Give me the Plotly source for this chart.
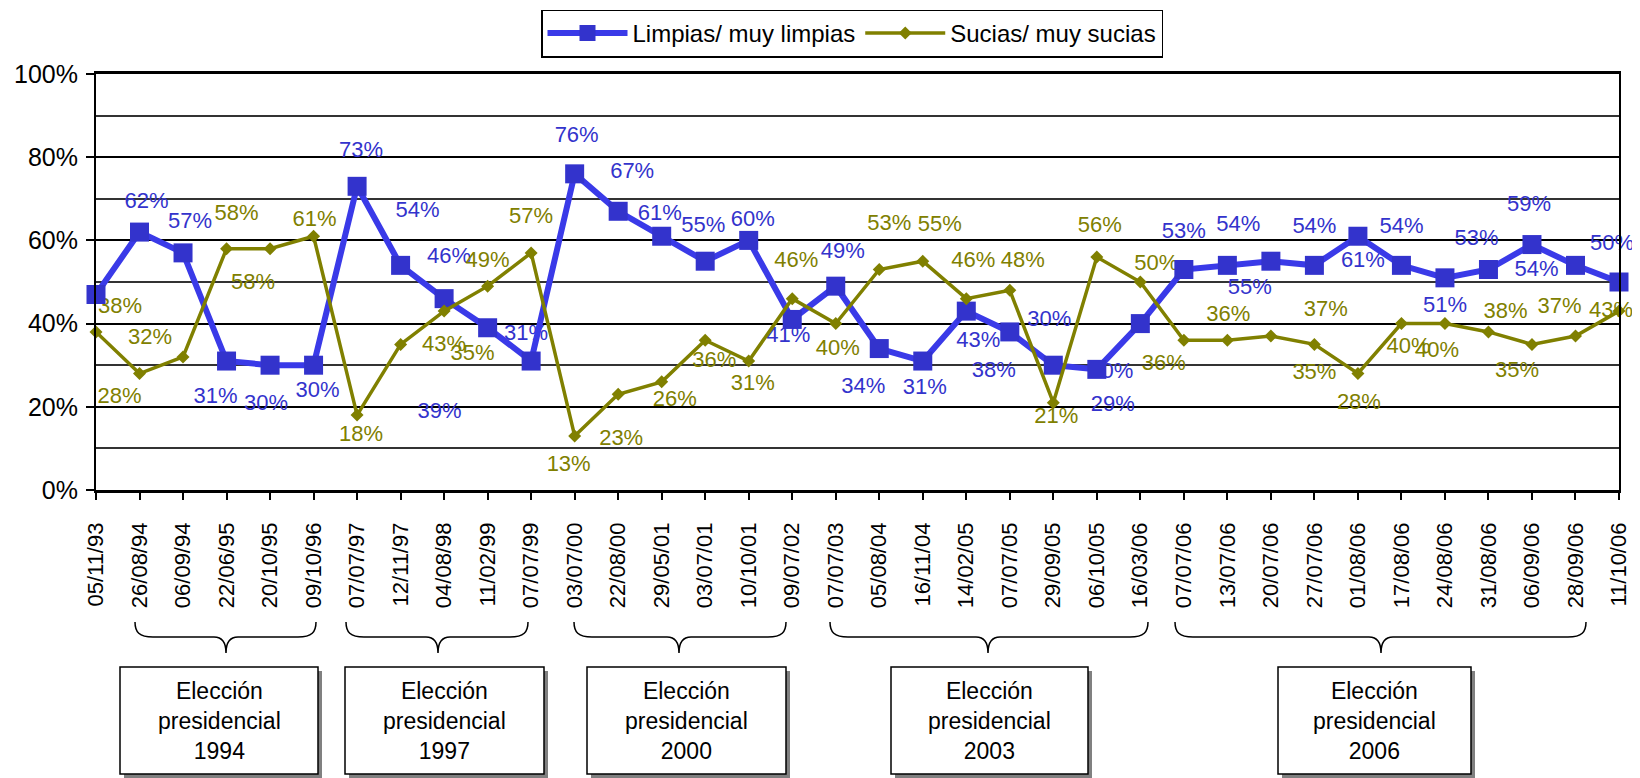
import plotly.graph_objects as go

# ---------------- data ----------------
dates = ["05/11/93", "26/08/94", "06/09/94", "22/06/95", "20/10/95", "09/10/96",
         "07/07/97", "12/11/97", "04/08/98", "11/02/99", "07/07/99", "03/07/00",
         "22/08/00", "29/05/01", "03/07/01", "10/10/01", "09/07/02", "07/07/03",
         "05/08/04", "16/11/04", "14/02/05", "07/07/05", "29/09/05", "06/10/05",
         "16/03/06", "07/07/06", "13/07/06", "20/07/06", "27/07/06", "01/08/06",
         "17/08/06", "24/08/06", "31/08/06", "06/09/06", "28/09/06", "11/10/06"]

limpias = [47, 62, 57, 31, 30, 30, 73, 54, 46, 39, 31, 76, 67, 61, 55, 60, 41, 49,
           34, 31, 43, 38, 30, 29, 40, 53, 54, 55, 54, 61, 54, 51, 53, 59, 54, 50]

sucias = [38, 28, 32, 58, 58, 61, 18, 35, 43, 49, 57, 13, 23, 26, 36, 31, 46, 40,
          53, 55, 46, 48, 21, 56, 50, 36, 36, 37, 35, 28, 40, 40, 38, 35, 37, 43]

election_years = ["1994", "1997", "2000", "2003", "2006"]
y_ticks = [0, 20, 40, 60, 80, 100]

# ---------------- style ----------------
PAGE_W, PAGE_H = 1640, 778
BODY = 8                      # default page body margin of the html page
W, H = PAGE_W - BODY, PAGE_H - BODY
L_PX, R_PX, T_PX, B_PX = 96, 1619, 74, 490   # plot area in page pixels
FONT = "Liberation Sans, Arial, sans-serif"
BLUE_LINE = "#3a3ae8"
BLUE_MARK = "#3333cc"
OLIVE = "#808000"

# label offsets (pixels, dx right, dy down) relative to each point
lab_off_l = [(-1, -33), (7, -30), (7, -30), (-11, 36), (-4, 39), (4, 26), (4, -35),
             (17, -54), (5, -41), (-48, 85), (-5, -27), (2, -37), (14, -39), (-2, -22),
             (-2, -35), (4, -20), (-4, 17), (7, -34), (-16, 39), (2, 27), (12, 30),
             (-16, 40), (-4, -45), (16, 36), (-29, 49), (0, -37), (11, -40), (-21, 27),
             (0, -38), (5, 25), (0, -38), (0, 29), (-12, -30), (-3, -39), (-39, 5),
             (-7, -38)]
lab_off_s = [(24, -24), (-20, 24), (-33, -18), (10, -34), (-17, 35), (1, -16), (4, 20),
             (72, 10), (0, 34), (0, -25), (0, -35), (-6, 30), (3, 45), (13, 19), (9, 21),
             (4, 23), (4, -37), (2, 26), (10, -45), (17, -36), (7, -37), (13, -29),
             (3, 15), (3, -31), (16, -18), (-20, 24), (1, -25), (55, -26), (0, 29),
             (1, 30), (7, 24), (-8, 28), (17, -19), (-15, 27), (-16, -29), (-8, 0)]

brace_px = [(135, 316, 226), (346, 528, 438), (574, 786, 679), (830, 1148, 988),
            (1175, 1586, 1381)]
box_px = [(120, 318), (345, 544), (587, 786), (891, 1088), (1278, 1471)]
BOX_Y0, BOX_Y1 = 667, 774
BR_TOP, BR_MID, BR_TIP = 622, 637, 653

n = len(dates)
ux = (R_PX - L_PX) / (n - 1)
uy = (B_PX - T_PX) / 100.0


def px(x):
    return (x - L_PX) / (R_PX - L_PX)


def py(y):
    return (B_PX - y) / (B_PX - T_PX)


fig = go.Figure()

# data labels (under the lines)
for vals, offs, col in [(limpias, lab_off_l, BLUE_MARK), (sucias, lab_off_s, OLIVE)]:
    fig.add_trace(go.Scatter(
        x=[i + dx / ux for i, (dx, dy) in enumerate(offs)],
        y=[v - dy / uy for v, (dx, dy) in zip(vals, offs)],
        mode="text", text=[f"{v}%" for v in vals],
        textposition="middle center",
        textfont=dict(size=22, color=col, family=FONT),
        showlegend=False, hoverinfo="skip", cliponaxis=False))

fig.add_trace(go.Scatter(
    x=list(range(n)), y=limpias, name="Limpias/ muy limpias", mode="lines+markers",
    line=dict(color=BLUE_LINE, width=6),
    marker=dict(symbol="square", size=19, color=BLUE_MARK),
    cliponaxis=False))
fig.add_trace(go.Scatter(
    x=list(range(n)), y=sucias, name="Sucias/ muy sucias", mode="lines+markers",
    line=dict(color=OLIVE, width=3.5),
    marker=dict(symbol="diamond", size=10, color=OLIVE),
    cliponaxis=False))

shapes = []
annotations = []
for (x0, x1, xm) in brace_px:
    pts = (f"M {px(x0)},{py(BR_TOP)} "
           f"C {px(x0)},{py(BR_MID - 5)} {px(x0 + 4)},{py(BR_MID)} {px(x0 + 18)},{py(BR_MID)} "
           f"L {px(xm - 12)},{py(BR_MID)} "
           f"C {px(xm - 4)},{py(BR_MID)} {px(xm)},{py(BR_MID + 5)} {px(xm)},{py(BR_TIP)} "
           f"C {px(xm)},{py(BR_MID + 5)} {px(xm + 4)},{py(BR_MID)} {px(xm + 12)},{py(BR_MID)} "
           f"L {px(x1 - 18)},{py(BR_MID)} "
           f"C {px(x1 - 4)},{py(BR_MID)} {px(x1)},{py(BR_MID - 5)} {px(x1)},{py(BR_TOP)}")
    shapes.append(dict(type="path", xref="paper", yref="paper", path=pts,
                       line=dict(color="black", width=1.5)))

for (x0, x1), yr in zip(box_px, election_years):
    shapes.append(dict(type="rect", xref="paper", yref="paper",
                       x0=px(x0 + 4), x1=px(x1 + 4), y0=py(BOX_Y0 + 4), y1=py(BOX_Y1 + 4),
                       fillcolor="#808080", line=dict(width=0)))
    shapes.append(dict(type="rect", xref="paper", yref="paper",
                       x0=px(x0), x1=px(x1), y0=py(BOX_Y0), y1=py(BOX_Y1),
                       fillcolor="white", line=dict(color="black", width=1.5)))
    annotations.append(dict(xref="paper", yref="paper", x=px((x0 + x1) / 2),
                            y=py((BOX_Y0 + BOX_Y1) / 2), xanchor="center", yanchor="middle",
                            text=f"Elección<br>presidencial<br>{yr}", showarrow=False,
                            font=dict(size=23, color="black", family=FONT)))

fig.update_layout(
    width=W, height=H, autosize=False,
    margin=dict(l=L_PX - BODY, r=PAGE_W - R_PX, t=T_PX - BODY, b=PAGE_H - B_PX, pad=0,
                autoexpand=False),
    paper_bgcolor="white", plot_bgcolor="white",
    font=dict(family=FONT, color="black", size=22),
    showlegend=True,
    legend=dict(orientation="h", x=px(541), y=py(9.5), xanchor="left", yanchor="top",
                bordercolor="black", borderwidth=1.5, bgcolor="white",
                font=dict(size=24, family=FONT, color="black"), itemwidth=80),
    shapes=shapes, annotations=annotations,
)
fig.update_xaxes(
    type="linear", range=[0, n - 1], tickmode="array", tickvals=list(range(n)),
    ticktext=dates, tickangle=-90, ticks="outside", ticklen=7, tickwidth=2,
    tickcolor="black", showline=True, linecolor="black", linewidth=2.5, mirror=True,
    showgrid=False, zeroline=False, ticklabelstandoff=14,
    tickfont=dict(size=22, family=FONT, color="black"))
fig.update_yaxes(
    range=[0, 100], tickmode="array", tickvals=y_ticks, ticktext=[f"{t}%" for t in y_ticks],
    ticks="outside", ticklen=8, tickwidth=2, tickcolor="black",
    showline=True, linecolor="black", linewidth=2, mirror=True,
    showgrid=True, gridcolor="black", gridwidth=2, zeroline=False,
    minor=dict(dtick=10, tick0=0, showgrid=True, gridcolor="#333333", gridwidth=2, ticks=""),
    ticklabelstandoff=3,
    tickfont=dict(size=25, family=FONT, color="black"))

fig.write_html("out.html")
